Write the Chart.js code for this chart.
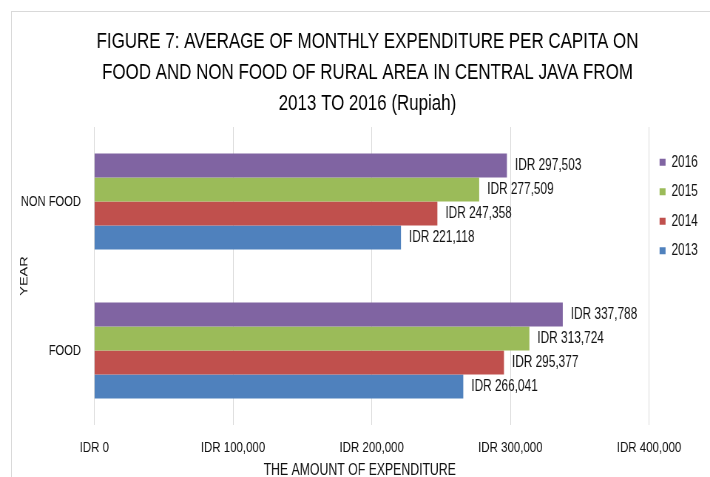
<!DOCTYPE html>
<html>
<head>
<meta charset="utf-8">
<script src="https://cdn.jsdelivr.net/npm/chart.js@4.4.1/dist/chart.umd.min.js"></script>
<style>
  html, body { margin: 0; padding: 0; background: #fff; }
  #wrap  { position: relative; width: 710px; height: 477px; overflow: hidden; }
  #frame { position: absolute; left: 11px; top: 11px; width: 720px; height: 480px; border: 1px solid #d9d9d9; }
  /* the reference is a horizontally squeezed picture, so the chart is drawn wide and squeezed too */
  #squeeze { position: absolute; left: 0; top: 0; width: 960px; height: 477px;
             transform: scaleX(0.73958); transform-origin: 0 0; }
  #chart { position: absolute; left: 0; top: 0; }
</style>
</head>
<body>
<div id="wrap">
  <div id="frame"></div>
  <div id="squeeze"><canvas id="chart" width="960" height="477"></canvas></div>
</div>
<script>
// Average monthly expenditure per capita, rural Central Java (Rupiah)

const categories = ['NON FOOD', 'FOOD']
const years      = ['2016', '2015', '2014', '2013']

const values2016 = [297503, 337788]
const values2015 = [277509, 313724]
const values2014 = [247358, 295377]
const values2013 = [221118, 266041]

const xTicks = [0, 100000, 200000, 300000, 400000]

const titleLines = [
  'FIGURE 7: AVERAGE OF MONTHLY EXPENDITURE PER CAPITA ON',
  'FOOD AND NON FOOD OF RURAL AREA IN CENTRAL JAVA FROM',
  '2013 TO 2016 (Rupiah)'
]

const seriesValues = [values2016, values2015, values2014, values2013]
const seriesColors = ['#8064A2', '#9BBB59', '#C0504D', '#4F81BD']

const FONT      = "'Liberation Sans', Arial, sans-serif"
const TEXT      = '#111111'
const GRID      = '#d9d9d9'
const PAD_LEFT  = 40.3
const PLOT_LEFT = 127.5

Chart.defaults.font.family = FONT
Chart.defaults.color       = TEXT

const formatIDR = v => 'IDR ' + Number(v).toLocaleString('en-US')

// value labels just past the end of each bar
const barLabels = {
  id: 'barLabels',
  afterDatasetsDraw(chart)
  {
    const ctx = chart.ctx
    ctx.save()
    ctx.font         = `16px ${FONT}`
    ctx.fillStyle    = TEXT
    ctx.textAlign    = 'left'
    ctx.textBaseline = 'middle'

    chart.data.datasets.forEach((ds, i) => {
      chart.getDatasetMeta(i).data.forEach((bar, j) => {
        ctx.fillText(formatIDR(ds.data[j]), bar.x + 10.8, bar.y + 0.5)
      })
    })
    ctx.restore()
  }
}

const datasets = years.map((year, i) => ({
  label:              year,
  data:               seriesValues[i],
  backgroundColor:    seriesColors[i],
  borderWidth:        0,
  barPercentage:      1,
  categoryPercentage: 0.645
}))

new Chart(document.getElementById('chart'), {
  type: 'bar',
  data: { labels: categories, datasets: datasets },
  plugins: [barLabels],
  options: {
    indexAxis:  'y',
    responsive: false,
    animation:  false,
    devicePixelRatio: 1,
    layout: { padding: { left: PAD_LEFT, right: 6.5, top: 0, bottom: 0 } },
    scales: {
      x: {
        min: 0,
        max: 400000,
        afterBuildTicks: scale => { scale.ticks = xTicks.map(v => ({ value: v })) },
        afterFit: scale => { scale.height = 52 },
        grid:   { color: GRID, drawTicks: false },
        border: { display: false },
        ticks:  {
          padding:  13.5,
          color:    TEXT,
          font:     { size: 15.5 },
          callback: v => formatIDR(v)
        },
        title: {
          display: true,
          // trailing spaces nudge the centred title left, as in the original
          text:    'THE AMOUNT OF EXPENDITURE       ',
          color:   TEXT,
          font:    { size: 16.6 },
          padding: { top: 0, bottom: -3.5 }
        }
      },
      y: {
        afterFit: scale => {
          scale.width = PLOT_LEFT - PAD_LEFT
          // category names may run past the narrow axis box, so do not clip them
          scale._computeLabelArea = () => null
        },
        grid:   { display: false, drawTicks: false },
        border: { display: false },
        ticks:  { padding: 18, color: TEXT, font: { size: 15.1 } },
        title: {
          display: true,
          text:    'YEAR',
          color:   TEXT,
          font:    { size: 14.5 },
          padding: { top: -16, bottom: 0 }
        }
      }
    },
    plugins: {
      title: {
        display: true,
        text:    titleLines,
        color:   '#000',
        font:    { size: 22.9, weight: 'normal', lineHeight: 1.345 },
        padding: { top: 26.3, bottom: 8.3 }
      },
      legend: {
        position: 'right',
        align:    'start',
        fullSize: false,
        title:    { display: true, text: '', padding: { top: 3.1, bottom: 0 }, font: { size: 10, lineHeight: 1 } },
        labels: {
          boxWidth:  8.1,
          boxHeight: 7,
          padding:   14.2,
          color:     TEXT,
          font:      { size: 16, lineHeight: 0.955 },
          generateLabels: chart =>
            Chart.defaults.plugins.legend.labels.generateLabels(chart).map(item => ({ ...item, text: [item.text] }))
        }
      },
      tooltip: { enabled: false }
    }
  }
})
</script>
</body>
</html>
